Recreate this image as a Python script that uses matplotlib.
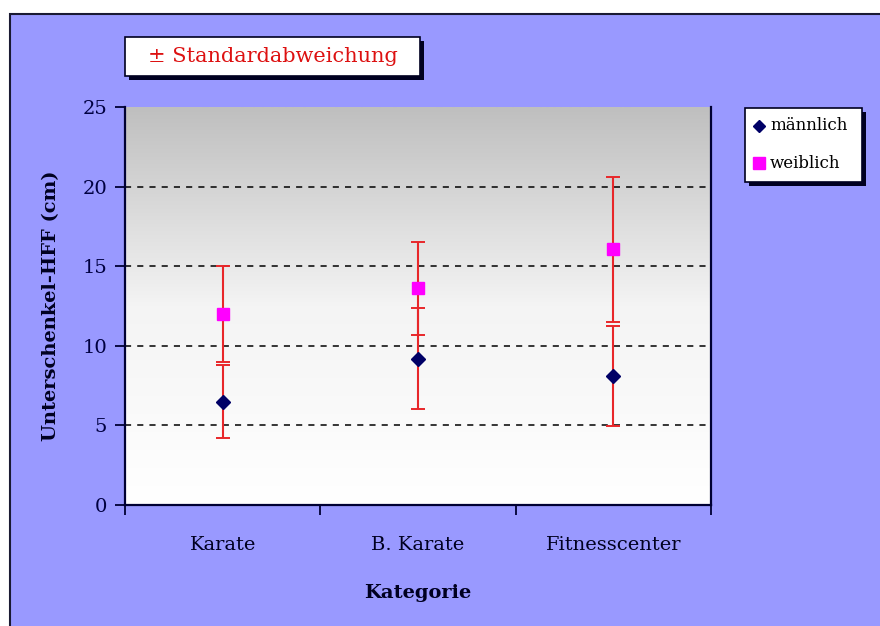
import numpy as np
import matplotlib.pyplot as plt
from matplotlib.patches import Rectangle
from matplotlib.lines import Line2D

plt.rcParams['font.family'] = ['DejaVu Serif']

categories = ["Karate", "B. Karate", "Fitnesscenter"]
male_mean = [6.5, 9.2, 8.1]
male_sd = [2.3, 3.2, 3.15]
female_mean = [12.0, 13.6, 16.05]
female_sd = [3.0, 2.9, 4.55]
y_ticks = [0, 5, 10, 15, 20, 25]

bg = "#9999ff"
navy = "#000033"
err_red = "#e8272a"

W, H = 880, 626
fig = plt.figure(figsize=(W / 100, H / 100), dpi=100, facecolor="white")

# chart background panel with dark frame
fig.patches.append(Rectangle((10 / W, -0.05), 1.05, (H - 14) / H + 0.05,
                             transform=fig.transFigure, facecolor=bg,
                             edgecolor="#1a1a33", linewidth=1.5, zorder=-10))

ax = fig.add_axes([125 / W, (H - 505) / H, 586 / W, 398 / H])
ax.set_facecolor("none")
ax.set_zorder(1)

# vertical gray-to-white gradient in the plot area
grad = np.linspace(0, 1, 256).reshape(-1, 1)
cmap = plt.matplotlib.colors.LinearSegmentedColormap.from_list(
    "g", ["#ffffff", "#f4f4f4", "#bfbfbf"])
ax.imshow(grad, extent=[0, 1, 0, 1], transform=ax.transAxes, origin="lower",
          cmap=cmap, aspect="auto", zorder=0)

x = np.arange(len(categories)) + 0.5
ax.set_xlim(0, 3)
ax.set_ylim(0, 25)

for yt in y_ticks[1:-1]:
    ax.axhline(yt, color="black", linestyle=(0, (4, 4)), linewidth=1.1, zorder=1)

ax.errorbar(x, female_mean, yerr=female_sd, fmt="none", ecolor=err_red,
            elinewidth=1.5, capsize=4.7, capthick=1.4, zorder=2)
ax.errorbar(x, male_mean, yerr=male_sd, fmt="none", ecolor=err_red,
            elinewidth=1.5, capsize=4.7, capthick=1.4, zorder=2)
ax.plot(x, male_mean, linestyle="none", marker="D", markersize=7,
        color="#000066", zorder=3)
ax.plot(x, female_mean, linestyle="none", marker="s", markersize=8,
        color="#ff00ff", zorder=3)

ax.set_yticks(y_ticks)
ax.set_yticklabels([str(v) for v in y_ticks], fontsize=14, color="#000040")
ax.set_xticks([0, 1, 2, 3])
ax.set_xticklabels([])
ax.set_xticks(x, minor=True)
ax.set_xticklabels(categories, minor=True, fontsize=14, color="#000020")
ax.tick_params(axis="x", which="minor", length=0, pad=22)
ax.tick_params(axis="x", which="major", length=7, width=1.3, color=navy, direction="out")
ax.tick_params(axis="y", length=7, width=1.3, color=navy, direction="out", pad=6)

for side in ["top", "right"]:
    ax.spines[side].set_visible(False)
for side in ["left", "bottom"]:
    ax.spines[side].set_color(navy)
    ax.spines[side].set_linewidth(1.6)
ax.plot([1, 1], [0, 1], transform=ax.transAxes, color=navy, lw=1.6, clip_on=False)

ax.set_ylabel("Unterschenkel-HFF (cm)", fontsize=14, fontweight="bold",
              color="#000020", labelpad=16)
ax.set_xlabel("Kategorie", fontsize=14, fontweight="bold", color="#000020",
              labelpad=22)

# boxed note and legend, each with a drop shadow
def boxed(x0, y0, x1, y1):
    fig.patches.append(Rectangle(((x0 + 4) / W, (H - y1 - 4) / H), (x1 - x0) / W,
                                 (y1 - y0) / H, transform=fig.transFigure,
                                 facecolor="#000020", edgecolor="none", zorder=3))
    fig.patches.append(Rectangle((x0 / W, (H - y1) / H), (x1 - x0) / W,
                                 (y1 - y0) / H, transform=fig.transFigure,
                                 facecolor="white", edgecolor="#000020",
                                 linewidth=1.2, zorder=4))

boxed(125, 37, 420, 76)
fig.text(273 / W, (H - 57) / H, "\u00b1 Standardabweichung", fontsize=15,
         color="#dd1111", ha="center", va="center", zorder=5)

boxed(745, 108, 862, 182)
fig.lines.append(Line2D([759 / W], [(H - 126) / H], marker="D", markersize=6,
                        color="#000066", transform=fig.transFigure, zorder=5))
fig.lines.append(Line2D([759 / W], [(H - 163) / H], marker="s", markersize=8,
                        color="#ff00ff", transform=fig.transFigure, zorder=5))
fig.text(770 / W, (H - 126) / H, "männlich", fontsize=12, color="black",
         va="center", ha="left", zorder=5)
fig.text(770 / W, (H - 163) / H, "weiblich", fontsize=12, color="black",
         va="center", ha="left", zorder=5)

fig.savefig("out.png", dpi=100, facecolor=fig.get_facecolor())
